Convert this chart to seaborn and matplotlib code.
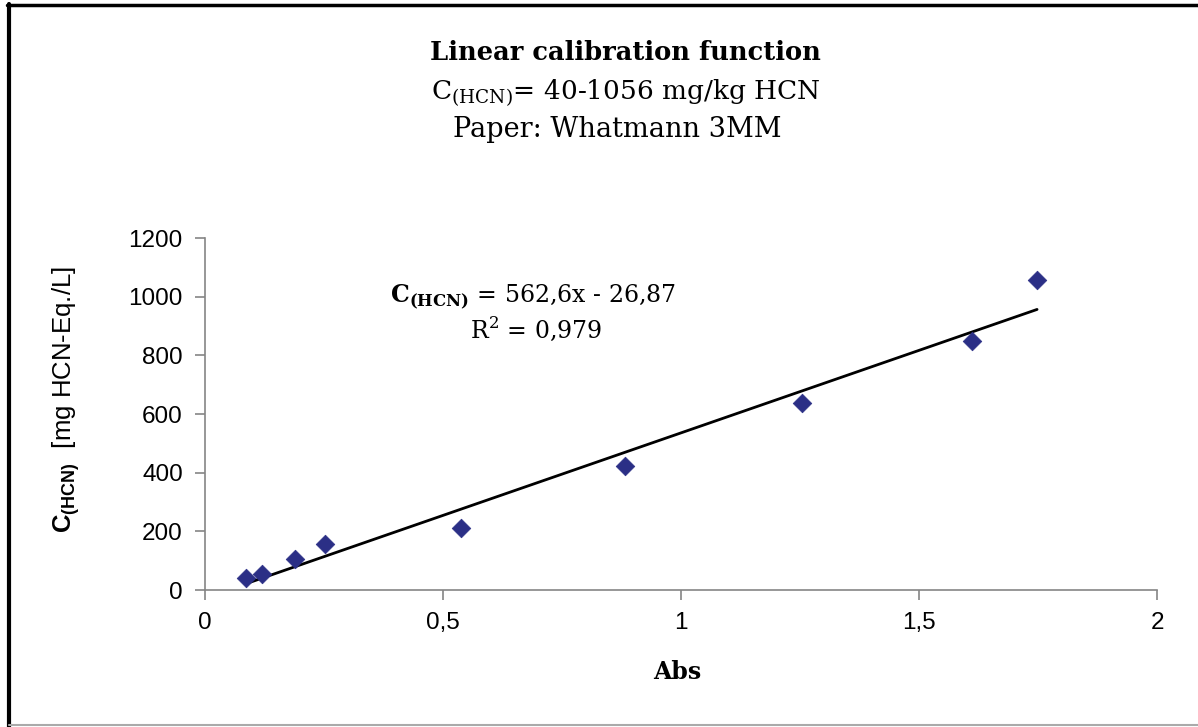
"""Linear calibration function for HCN on Whatmann 3MM paper."""

import matplotlib

matplotlib.use("Agg")

import matplotlib.pyplot as plt
import numpy as np
import pandas as pd
import seaborn as sns
from matplotlib.lines import Line2D
from matplotlib.ticker import FuncFormatter, MultipleLocator

# data
absorbance = [0.086, 0.120, 0.189, 0.252, 0.538, 0.882, 1.254, 1.611, 1.748]
c_hcn = [42, 53, 105, 156, 213, 424, 636, 848, 1056]

# trend line as printed on the chart
slope = 562.6
intercept = -26.87
r_squared = 0.979

x_ticks = [0, 0.5, 1, 1.5, 2]
y_ticks = [0, 200, 400, 600, 800, 1000, 1200]

SERIF = "DejaVu Serif"
SANS = "Liberation Sans"
POINT_COLOR = "#2b2f86"
AXIS_COLOR = "#858585"


def comma(value, _pos):
    return f"{value:g}".replace(".", ",")


def main() -> None:
    sns.set_theme(style="white")
    plt.rcParams["font.family"] = [SANS, "DejaVu Sans"]
    plt.rcParams["text.color"] = "black"
    plt.rcParams["axes.labelcolor"] = "black"
    plt.rcParams["mathtext.fontset"] = "custom"
    plt.rcParams["mathtext.rm"] = SERIF
    plt.rcParams["mathtext.bf"] = f"{SERIF}:bold"
    plt.rcParams["mathtext.sf"] = f"{SANS}:bold"

    points = pd.DataFrame({"Abs": absorbance, "C": c_hcn})
    fit_x = np.array([min(absorbance), max(absorbance)])
    trend = pd.DataFrame({"Abs": fit_x, "C": slope * fit_x + intercept})

    fig = plt.figure(figsize=(11.98, 7.27), dpi=100)
    ax = fig.add_axes([0.1711, 0.1884, 0.7947, 0.4842])

    sns.lineplot(data=trend, x="Abs", y="C", color="black", linewidth=2.0, ax=ax)
    sns.scatterplot(data=points, x="Abs", y="C", marker="D", s=90, color=POINT_COLOR,
                    edgecolor=POINT_COLOR, linewidth=0.5, ax=ax, zorder=3)

    ax.set_xlim(x_ticks[0], x_ticks[-1])
    ax.set_ylim(y_ticks[0], y_ticks[-1])
    ax.xaxis.set_major_locator(MultipleLocator(0.5))
    ax.set_yticks(y_ticks)
    ax.xaxis.set_major_formatter(FuncFormatter(comma))
    ax.tick_params(axis="both", which="major", direction="out", length=7, width=1.2,
                   color=AXIS_COLOR, labelsize=17.5, labelcolor="black", pad=9,
                   bottom=True, left=True)
    for side in ("top", "right"):
        ax.spines[side].set_visible(False)
    for side in ("left", "bottom"):
        ax.spines[side].set_color(AXIS_COLOR)
        ax.spines[side].set_linewidth(1.2)

    ax.set_xlabel("Abs", fontfamily=SERIF, fontweight="bold", fontsize=17)
    ax.xaxis.set_label_coords(0.496, -0.2)
    ax.set_ylabel(r"$\mathsf{C}_{\mathsf{(HCN)}}$  [mg HCN-Eq./L]", fontfamily=SANS,
                  fontsize=18.5)
    ax.yaxis.set_label_coords(-0.129, 0.54)

    fig.text(0.522, 0.928, "Linear calibration function", ha="center", va="center",
             fontfamily=SERIF, fontweight="bold", fontsize=18.5)
    fig.text(0.522, 0.873, r"$\mathrm{C}_{\mathrm{(HCN)}}$= 40-1056 mg/kg HCN",
             ha="center", va="center", fontfamily=SERIF, fontsize=19)
    fig.text(0.515, 0.822, "Paper: Whatmann 3MM", ha="center", va="center",
             fontfamily=SERIF, fontsize=19.5)

    ax.text(0.389, 1000, r"$\mathbf{C}_{\mathbf{(HCN)}}$ = " + f"{slope:g}x - {-intercept:g}".replace(".", ","),
            ha="left", va="center", fontfamily=SERIF, fontsize=17)
    ax.text(0.695, 890, r"R$^2$ = " + f"{r_squared:g}".replace(".", ","),
            ha="center", va="center", fontfamily=SERIF, fontsize=17)

    # outer frame of the original figure
    fig.add_artist(Line2D([0.0075, 0.0075], [0.0, 0.995], transform=fig.transFigure,
                          color="black", linewidth=3))
    fig.add_artist(Line2D([0.006, 1.0], [0.9925, 0.9925], transform=fig.transFigure,
                          color="black", linewidth=2.5))
    fig.add_artist(Line2D([0.0075, 1.0], [0.003, 0.003], transform=fig.transFigure,
                          color="#aaaaaa", linewidth=1.5))

    fig.savefig("out.png", dpi=100)
    plt.close(fig)


if __name__ == "__main__":
    main()
